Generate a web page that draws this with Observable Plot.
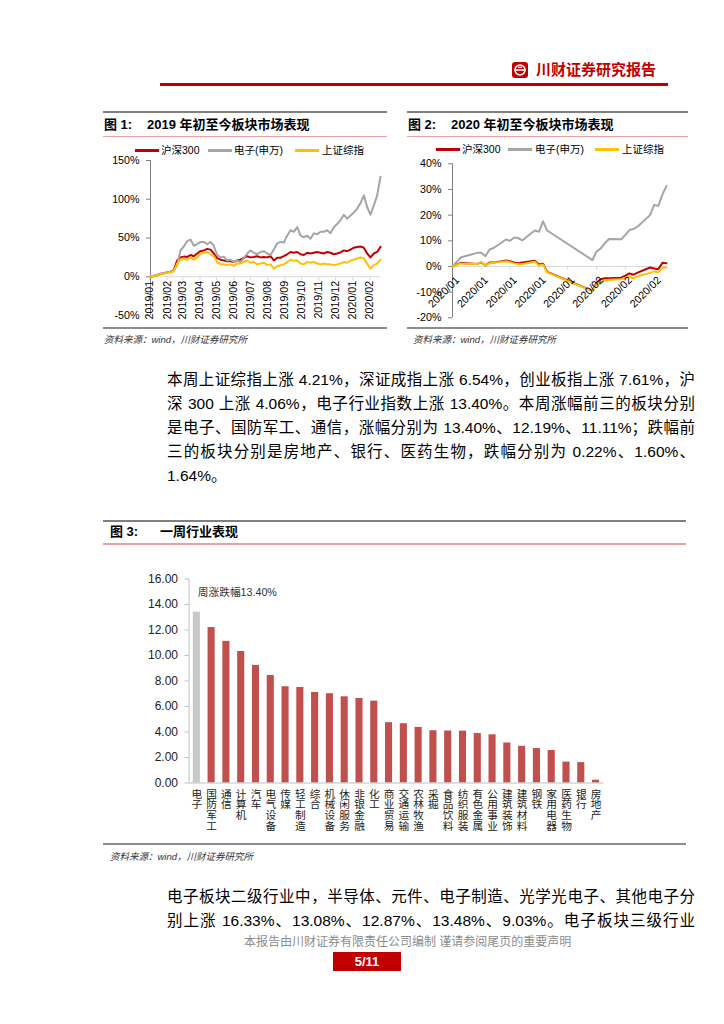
<!DOCTYPE html>
<html><head><meta charset="utf-8">
<script src="https://cdn.jsdelivr.net/npm/d3@7"></script>
<script src="https://cdn.jsdelivr.net/npm/@observablehq/plot@0.6"></script>
<style>
body{margin:0;background:#fff;}
#page{position:relative;width:724px;height:1024px;overflow:hidden;background:#fff;font-family:"Liberation Sans","Noto Sans CJK SC",sans-serif;color:#000;}
.ln{position:absolute;}
.title{position:absolute;font-weight:bold;font-size:13px;line-height:15px;white-space:nowrap;}
.src{position:absolute;font-size:9.5px;line-height:12px;font-style:italic;color:#333;white-space:nowrap;}
.leg{position:absolute;font-size:10.5px;line-height:12px;white-space:nowrap;}
.sw{position:absolute;height:3px;width:24px;}
.para{position:absolute;left:167px;width:528px;font-size:15.5px;line-height:18px;text-align:justify;text-align-last:justify;}
.chart{position:absolute;}
</style></head>
<body><div id="page"></div>
<script>
// ---------- DATA ----------
const seriesNames = ["沪深300", "电子(申万)", "上证综指"];
const seriesColors = ["#C00000", "#A5A5A5", "#FFC000"];

// Figure 1: 2019-01 to 2020-02 (cumulative %)
const dates1 = ["2019-01-02","2019-01-08","2019-01-14","2019-01-20","2019-01-26","2019-02-01","2019-02-07","2019-02-13","2019-02-19","2019-02-25",
"2019-03-03","2019-03-09","2019-03-15","2019-03-21","2019-03-27","2019-04-02","2019-04-08","2019-04-14","2019-04-20","2019-04-26",
"2019-05-02","2019-05-08","2019-05-14","2019-05-20","2019-05-26","2019-06-01","2019-06-07","2019-06-13","2019-06-19","2019-06-25",
"2019-07-01","2019-07-07","2019-07-13","2019-07-19","2019-07-25","2019-07-31","2019-08-06","2019-08-12","2019-08-18","2019-08-24",
"2019-08-30","2019-09-05","2019-09-11","2019-09-17","2019-09-23","2019-09-29","2019-10-05","2019-10-11","2019-10-17","2019-10-23",
"2019-10-29","2019-11-04","2019-11-10","2019-11-16","2019-11-22","2019-11-28","2019-12-04","2019-12-10","2019-12-16","2019-12-22",
"2019-12-28","2020-01-03","2020-01-09","2020-01-15","2020-01-21","2020-01-27","2020-02-02","2020-02-08","2020-02-14","2020-02-20"];
const hs300_1 = [0,1,2,3.5,4.5,5.5,6.5,8.5,21,25, 26,25.5,28,26.5,30,33,34,36,35,30, 24,22,21,20,20,19,21,22,24.5,26.5,
25,25.5,26.5,25,25.5,25,26.5,21,24.5,24.5, 26.5,29,32,31,32,29,28,31,30,31, 32,31,30,32,31,29,30,31.5,34,33,
35,37.5,38.5,39,37.5,30,25,30,32,38.5];
const dianzi_1 = [0,1.5,2.5,4,5,6,6.5,8,15,34, 39,46,48,40,42,45,45,42,45,40, 28,25,26,21,22,19,21,19,24,30,
34,31,29,32,33,30,28,35,43,45, 44,53,60,58,64,53,51,53,49,56, 55,58,58,60,56,64,68,73,80,75,
79,83,88,95,105,90,80,92,105,129];
const szzz_1 = [0,1,2,3,4,5,5.5,7,17,22, 23.5,22,25,22,25,30,31,32,29,26.5, 19,16,16,15,16,14,17,17,19,21,
18,19,16,17,18,15,16,10.5,13.5,15, 16,19,22,20.5,21,17,16,19,18,19, 17,16,17,16,16,15,16,17,19,18,
21,22,23.5,25,23.5,17,10.5,15,17,22];
const ticks1 = ["2019-01-01","2019-02-01","2019-03-01","2019-04-01","2019-05-01","2019-06-01","2019-07-01","2019-08-01","2019-09-01","2019-10-01","2019-11-01","2019-12-01","2020-01-01","2020-02-01"];
const tickLabels1 = ["2019/01","2019/02","2019/03","2019/04","2019/05","2019/06","2019/07","2019/08","2019/09","2019/10","2019/11","2019/12","2020/01","2020/02"];
const yTicks1 = [-50, 0, 50, 100, 150];

// Figure 2: 2020 YTD
const dates2 = ["2019-12-31","2020-01-02","2020-01-03","2020-01-06","2020-01-07","2020-01-08","2020-01-09","2020-01-10","2020-01-13","2020-01-14","2020-01-15","2020-01-16","2020-01-17","2020-01-20","2020-01-21","2020-01-22","2020-01-23",
"2020-02-03","2020-02-04","2020-02-05","2020-02-06","2020-02-07","2020-02-10","2020-02-11","2020-02-12","2020-02-13","2020-02-14","2020-02-17","2020-02-18","2020-02-19","2020-02-20","2020-02-21"];
const hs300_2 = [0,1.4,1.3,1.0,1.6,0.4,1.5,1.5,2.3,2.0,1.6,1.3,1.5,2.2,0.8,1.1,-2.1, -9.5,-6.3,-5.0,-4.6,-4.6,-4.4,-3.6,-2.7,-3.2,-2.4,-0.4,-0.8,-1.1,1.4,1.3];
const dianzi_2 = [0,3.5,4.0,5.3,5.3,4.0,6.6,7.2,10.5,10.0,11.3,11.0,10.2,14.0,13.5,17.6,14.0, 2.5,5.8,7.0,9.0,10.7,10.6,12.3,14.2,14.6,15.6,20.0,24.0,23.6,28.0,31.4];
const szzz_2 = [0,1.2,1.1,1.0,1.7,0.4,1.3,1.4,2.0,1.7,1.2,0.9,1.0,1.8,0.4,0.8,-2.3, -9.6,-7.0,-6.0,-5.5,-5.2,-5.0,-4.4,-4.0,-4.6,-3.8,-2.5,-1.9,-2.3,-0.5,-0.3];
const ticks2 = ["2019-12-31","2020-01-07","2020-01-14","2020-01-21","2020-01-28","2020-02-04","2020-02-11","2020-02-18"];
const tickLabels2 = ["2020/01","2020/01","2020/01","2020/01","2020/01","2020/02","2020/02","2020/02"];
const yTicks2 = [-20, -10, 0, 10, 20, 30, 40];

// Figure 3: weekly change by industry (%)
const industries = ["电子","国防军工","通信","计算机","汽车","电气设备","传媒","轻工制造","综合","机械设备","休闲服务","非银金融","化工","商业贸易","交通运输","农林牧渔","采掘","食品饮料","纺织服装","有色金属","公用事业","建筑装饰","建筑材料","钢铁","家用电器","医药生物","银行","房地产"];
const weekChange = [13.40,12.19,11.11,10.31,9.22,8.43,7.55,7.49,7.10,7.00,6.76,6.63,6.42,4.73,4.65,4.36,4.10,4.08,4.07,3.88,3.78,3.14,2.88,2.70,2.55,1.64,1.60,0.22];
const yTicks3 = [0, 2, 4, 6, 8, 10, 12, 14, 16];

// Text
const para1 = ["本周上证综指上涨 4.21%，深证成指上涨 6.54%，创业板指上涨 7.61%，沪",
"深 300 上涨 4.06%，电子行业指数上涨 13.40%。本周涨幅前三的板块分别",
"是电子、国防军工、通信，涨幅分别为 13.40%、12.19%、11.11%；跌幅前",
"三的板块分别是房地产、银行、医药生物，跌幅分别为 0.22%、1.60%、",
"1.64%。"];
const para2 = ["电子板块二级行业中，半导体、元件、电子制造、光学光电子、其他电子分",
"别上涨 16.33%、13.08%、12.87%、13.48%、9.03%。电子板块三级行业"];

// ---------- PAGE ----------
const page = document.getElementById("page");
function el(tag, cls, style, html) {
  const e = document.createElement(tag);
  if (cls) e.className = cls;
  Object.assign(e.style, style || {});
  if (html != null) e.innerHTML = html;
  page.appendChild(e);
  return e;
}
function px(v){return v + "px";}
function hline(x, y, w, h, c){ el("div","ln",{left:px(x),top:px(y),width:px(w),height:px(h),background:c}); }

// header
el("div","",{position:"absolute",left:"512px",top:"62px",width:"16px",height:"16px"},
 '<svg width="16" height="16" viewBox="0 0 16 16"><rect x="0" y="0" width="16" height="16" rx="3" fill="#C00000"/><circle cx="8" cy="8" r="5" fill="none" stroke="#fff" stroke-width="1.6"/><rect x="3.5" y="7.2" width="9" height="1.6" fill="#fff"/><rect x="6" y="4.6" width="4" height="1.3" fill="#fff"/></svg>');
el("div","",{position:"absolute",left:"536px",top:"61px",fontSize:"15px",lineHeight:"18px",fontWeight:"bold",color:"#C00000",whiteSpace:"nowrap"},"川财证券研究报告");
hline(160, 83, 508, 3, "#C00000");

// figure frames
function figFrame(x, w, yTop, yPink, yBottom, num, numX, title, titleX, yTitle){
  hline(x, yTop, w, 2, "#7F7F7F");
  el("div","title",{left:px(numX),top:px(yTitle-7.5)},"图 " + num + ":");
  el("div","title",{left:px(titleX),top:px(yTitle-7.5)},title);
  hline(x, yPink, w, 1.5, "#E8A0A0");
  if (yBottom != null) hline(x, yBottom, w, 1.5, "#8C8C8C");
}
figFrame(103, 284, 111, 135.5, 327, "1", 104, "2019 年初至今板块市场表现", 147, 124);
figFrame(407, 281, 111, 135.5, 327, "2", 408, "2020 年初至今板块市场表现", 451, 124);
figFrame(103, 583, 520, 543, 843, "3", 110, "一周行业表现", 160, 531);

el("div","src",{left:"104px",top:"334px"},"资料来源：wind，川财证券研究所");
el("div","src",{left:"413px",top:"334px"},"资料来源：wind，川财证券研究所");
el("div","src",{left:"110px",top:"851px"},"资料来源：wind，川财证券研究所");

// legends
function legend(items){
  items.forEach(([swx, tx, y], i) => {
    el("div","sw",{left:px(swx),top:px(y-1.5),background:seriesColors[i]});
    el("div","leg",{left:px(tx),top:px(y-6)},seriesNames[i]);
  });
}
legend([[135,161,150],[208,234,150],[295,322,150]]);
legend([[436,462,149],[508,535,149],[595,622,149]]);

// paragraphs
para1.forEach((t,i)=>{
  const full = i < 4;
  el("div","para",{top:px(371 + i*24), textAlignLast: full ? "justify" : "left"}, t);
});
para2.forEach((t,i)=>{
  el("div","para",{top:px(888 + i*24)}, t);
});

// footer
el("div","",{position:"absolute",left:"244px",top:"935px",fontSize:"12px",lineHeight:"14px",color:"#8C8C8C",whiteSpace:"nowrap"},"本报告由川财证券有限责任公司编制 谨请参阅尾页的重要声明");
el("div","",{position:"absolute",left:"333px",top:"952px",width:"68px",height:"19px",background:"#C00000",color:"#fff",fontWeight:"bold",fontSize:"13px",lineHeight:"19px",textAlign:"center"},"5/11");

// ---------- CHARTS ----------
const font = "Liberation Sans, Noto Sans CJK SC, sans-serif";
function longData(dates, arrs){
  const out = [];
  arrs.forEach((vals, s) => dates.forEach((d, i) => out.push({date: new Date(d), v: vals[i], s: seriesNames[s]})));
  return out;
}
function place(svg, left, top){
  const wrap = document.createElement("div");
  wrap.className = "chart";
  wrap.style.left = px(left); wrap.style.top = px(top);
  wrap.appendChild(svg);
  page.appendChild(wrap);
}

// Figure 1
const long1 = longData(dates1, [hs300_1, dianzi_1, szzz_1]);
const tk1 = ticks1.map((d,i)=>({date:new Date(d), label: tickLabels1[i]}));
const x1dom = [new Date(dates1[0]), new Date(dates1[dates1.length-1])];
const chart1 = Plot.plot({
  width: 290, height: 172, marginLeft: 50, marginRight: 10, marginTop: 7, marginBottom: 10,
  style: {fontFamily: font, fontSize: "10.7px", color: "#000", background: "transparent", overflow: "visible"},
  x: {type: "utc", domain: x1dom, axis: null},
  y: {domain: [-50, 150]},
  color: {domain: seriesNames, range: seriesColors},
  marks: [
    Plot.ruleY([0], {stroke: "#D9D9D9", strokeWidth: 1}),
    Plot.ruleX(tk1, {x: "date", y1: 0, y2: -5, stroke: "#D9D9D9"}),
    Plot.ruleX([x1dom[0]], {y1: -50, y2: 150, stroke: "#808080"}),
    Plot.axisY({ticks: yTicks1, tickFormat: d => d + "%", tickSize: 4, tickPadding: 7, label: null, stroke: "#808080", fill: "#000"}),
    Plot.line(long1, {x: "date", y: "v", z: "s", stroke: "s", strokeWidth: 2}),
    Plot.text(tk1, {x: "date", y: () => 0, text: "label", rotate: -90, textAnchor: "end", dy: 4, fill: "#000"})
  ]
});
place(chart1, 100, 153);

// Figure 2
const long2 = longData(dates2, [hs300_2, dianzi_2, szzz_2]);
const tk2 = ticks2.map((d,i)=>({date:new Date(d), label: tickLabels2[i]}));
const x2dom = [new Date(dates2[0]), new Date(dates2[dates2.length-1])];
const chart2 = Plot.plot({
  width: 290, height: 168, marginLeft: 52, marginRight: 24, marginTop: 7.3, marginBottom: 6.7,
  style: {fontFamily: font, fontSize: "10.7px", color: "#000", background: "transparent", overflow: "visible"},
  x: {type: "utc", domain: x2dom, axis: null},
  y: {domain: [-20, 40]},
  color: {domain: seriesNames, range: seriesColors},
  marks: [
    Plot.ruleY([0], {stroke: "#D9D9D9", strokeWidth: 1}),
    Plot.ruleX(tk2, {x: "date", y1: 0, y2: -1.5, stroke: "#D9D9D9"}),
    Plot.ruleX([x2dom[0]], {y1: -20, y2: 40, stroke: "#808080"}),
    Plot.axisY({ticks: yTicks2, tickFormat: d => d + "%", tickSize: 4, tickPadding: 7, label: null, stroke: "#808080", fill: "#000"}),
    Plot.line(long2, {x: "date", y: "v", z: "s", stroke: "s", strokeWidth: 2}),
    Plot.text(tk2, {x: "date", y: () => 0, text: "label", rotate: -45, textAnchor: "end", dx: 5, dy: 12, fill: "#000"})
  ]
});
place(chart2, 400, 156);

// Figure 3
const bars = industries.map((n,i)=>({name:n, v: weekChange[i]}));
const chart3 = Plot.plot({
  width: 600, height: 270, marginLeft: 88.5, marginRight: 96.6, marginTop: 8.5, marginBottom: 57.5,
  style: {fontFamily: font, fontSize: "10.7px", color: "#000", background: "transparent", overflow: "visible"},
  x: {domain: industries, paddingInner: 0.52, paddingOuter: 0.29, round: false},
  y: {domain: [0, 16]},
  marks: [
    Plot.barY(bars, {x: "name", y: "v", fill: d => d.name === industries[0] ? "#C8C8C8" : "#C0504D"}),
    Plot.ruleY([0], {stroke: "#BFBFBF"}),
    Plot.ruleX([industries[0]], {y1: 0, y2: 16, dx: -7.8, stroke: "#BFBFBF"}),
    Plot.axisY({ticks: yTicks3, tickFormat: d => d.toFixed(2), tickSize: 4, tickPadding: 7, label: null, stroke: "#BFBFBF", fill: "#222", fontSize: 12}),
    Plot.axisX({tickFormat: d => d.split("").join("\n"), tickSize: 0, tickPadding: 7, label: null, fill: "#222", fontSize: 10.7}),
    Plot.text([bars[0]], {x: "name", y: "v", text: d => "周涨跌幅" + d.v.toFixed(2) + "%", textAnchor: "start", dy: -20, dx: 1, fill: "#333", fontSize: 10.7})
  ]
});
place(chart3, 100, 570);
</script>
</body></html>
